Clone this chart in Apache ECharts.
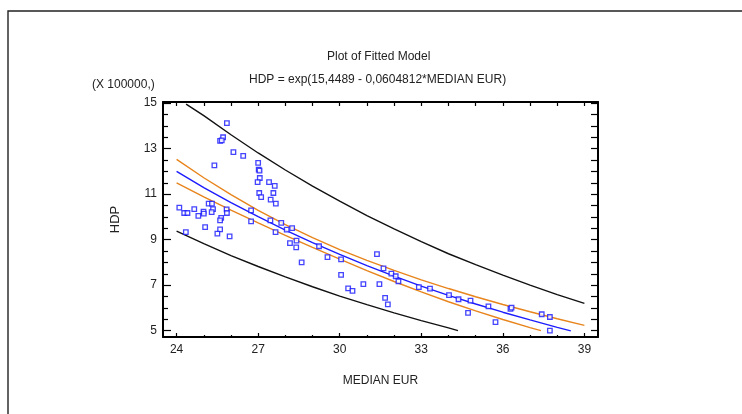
<!DOCTYPE html>
<html>
<head>
<meta charset="utf-8">
<script src="https://cdn.jsdelivr.net/npm/echarts@6/dist/echarts.min.js"></script>
<style>
  html, body { margin: 0; padding: 0; background: #fff; }
  #main { width: 742px; height: 414px; }
</style>
</head>
<body>
<div id="main"></div>
<script>
// observed points (MEDIAN EUR, HDP in 100000s)
var obsX = [25.85, 25.71, 25.60, 25.66, 26.09, 26.45, 25.39, 27.00, 27.02, 27.05,
            27.06, 26.98, 27.40, 27.61, 27.04, 27.11, 27.56, 27.46, 27.65, 24.10,
            24.28, 24.40, 24.65, 24.80, 24.99, 25.00, 25.18, 25.30, 25.34, 25.29,
            25.84, 25.85, 25.64, 25.60, 25.05, 24.34, 25.60, 25.50, 25.95, 26.74,
            26.74, 27.45, 27.85, 28.05, 28.25, 27.64, 28.17, 28.41, 28.40, 28.60,
            29.24, 29.55, 30.05, 30.05, 30.31, 30.47, 30.87, 31.37, 31.46, 31.61,
            31.67, 31.77, 31.90, 32.06, 32.16, 32.91, 33.32, 34.02, 34.37, 34.81,
            34.72, 35.47, 35.73, 36.28, 36.32, 37.43, 37.73, 37.73];
var obsY = [14.12, 13.50, 13.34, 13.36, 12.85, 12.68, 12.26, 12.37, 12.08, 12.03,
            11.71, 11.53, 11.53, 11.36, 11.05, 10.87, 11.05, 10.76, 10.58, 10.41,
            10.17, 10.17, 10.34, 10.04, 10.23, 10.14, 10.58, 10.58, 10.34, 10.21,
            10.33, 10.17, 9.96, 9.85, 9.55, 9.33, 9.45, 9.26, 9.14, 10.29,
            9.80, 9.85, 9.74, 9.44, 9.51, 9.33, 8.85, 8.96, 8.66, 8.00,
            8.71, 8.23, 8.13, 7.45, 6.86, 6.75, 7.04, 8.36, 7.04, 7.74,
            6.44, 6.15, 7.51, 7.39, 7.17, 6.91, 6.85, 6.56, 6.38, 6.32,
            5.78, 6.07, 5.37, 5.96, 6.01, 5.72, 5.60, 5.00];

// fitted line
var fitX = [24, 25, 26, 27, 28, 29, 30, 31, 32, 33, 34, 35, 36, 37, 38, 38.5];
var fitY = [12.00, 11.29, 10.63, 10.01, 9.42, 8.87, 8.35, 7.86, 7.40, 6.96, 6.55, 6.17, 5.81, 5.47, 5.14, 4.99];

// confidence limits for the mean (orange)
var confUpX = [24, 25, 26, 27, 28, 29, 30, 31, 32, 33, 34, 35, 36, 37, 38, 39];
var confUpY = [12.53, 11.72, 10.98, 10.29, 9.66, 9.09, 8.56, 8.09, 7.65, 7.23, 6.85, 6.49, 6.15, 5.83, 5.52, 5.23];
var confLoX = [24, 25, 26, 27, 28, 29, 30, 31, 32, 33, 34, 35, 36, 37, 37.4];
var confLoY = [11.49, 10.88, 10.30, 9.74, 9.19, 8.66, 8.14, 7.64, 7.16, 6.70, 6.27, 5.87, 5.49, 5.13, 5.00];

// prediction limits (black)
var predUpX = [24.35, 25, 26, 27, 28, 29, 30, 31, 32, 33, 34, 35, 36, 37, 38, 39];
var predUpY = [14.96, 14.45, 13.61, 12.81, 12.06, 11.35, 10.69, 10.06, 9.47, 8.91, 8.38, 7.90, 7.44, 7.00, 6.58, 6.20];
var predLoX = [24, 25, 26, 27, 28, 29, 30, 31, 32, 33, 34, 34.35];
var predLoY = [9.37, 8.82, 8.30, 7.82, 7.36, 6.93, 6.52, 6.14, 5.78, 5.44, 5.12, 5.00];

// ticks
var xMajor = [24, 27, 30, 33, 36, 39];
var xMinor = [25, 26, 28, 29, 31, 32, 34, 35, 37, 38];
var xAll = [24, 25, 26, 27, 28, 29, 30, 31, 32, 33, 34, 35, 36, 37, 38, 39];
var yMajor = [5, 7, 9, 11, 13, 15];
var yMinor = [5.5, 6, 6.5, 7.5, 8, 8.5, 9.5, 10, 10.5, 11.5, 12, 12.5, 13.5, 14, 14.5];
var yAll = [5, 5.5, 6, 6.5, 7, 7.5, 8, 8.5, 9, 9.5, 10, 10.5, 11, 11.5, 12, 12.5, 13, 13.5, 14, 14.5, 15];

var FONT = '"Liberation Sans", Arial, sans-serif';
var X_MIN = 23.5, X_MAX = 39.5, Y_MIN = 4.72, Y_MAX = 15.05;

function zip(a, b) {
  return a.map(function (v, i) { return [v, b[i]]; });
}

function xAxisDef(pos, ticks, len, showLine, labels) {
  return {
    type: 'value', position: pos, min: X_MIN, max: X_MAX,
    axisLine: { show: showLine, onZero: false, lineStyle: { color: '#000', width: 2 } },
    axisTick: { show: true, inside: true, length: len, customValues: ticks, lineStyle: { color: '#000', width: 1.2 } },
    axisLabel: labels ? { show: true, customValues: labels, margin: 7, color: '#222', fontSize: 12, fontFamily: FONT } : { show: false },
    splitLine: { show: false }
  };
}

function yAxisDef(pos, ticks, len, showLine, labels) {
  return {
    type: 'value', position: pos, min: Y_MIN, max: Y_MAX,
    axisLine: { show: showLine, onZero: false, lineStyle: { color: '#000', width: 2 } },
    axisTick: { show: true, inside: true, length: len, customValues: ticks, lineStyle: { color: '#000', width: 1.2 } },
    axisLabel: labels ? { show: true, customValues: labels, margin: 6, color: '#222', fontSize: 12, fontFamily: FONT } : { show: false },
    splitLine: { show: false }
  };
}

var chart = echarts.init(document.getElementById('main'));

var xBottom = xAxisDef('bottom', xMajor, 4, true, xMajor);
xBottom.name = 'MEDIAN EUR';
xBottom.nameLocation = 'middle';
xBottom.nameGap = 38;
xBottom.nameTextStyle = { color: '#222', fontSize: 12, fontFamily: FONT };

var yLeft = yAxisDef('left', yMajor, 8, true, yMajor);
yLeft.name = 'HDP';
yLeft.nameLocation = 'middle';
yLeft.nameGap = 41;
yLeft.nameTextStyle = { color: '#222', fontSize: 13, fontFamily: FONT };

function lineSeries(xs, ys, color) {
  return {
    type: 'line', data: zip(xs, ys), showSymbol: false, symbol: 'none',
    lineStyle: { color: color, width: 1.4 }, silent: true, z: 2
  };
}

chart.setOption({
  animation: false,
  backgroundColor: '#fff',
  grid: { left: 163, right: 144, top: 102, bottom: 77 },
  xAxis: [
    xBottom,
    xAxisDef('bottom', xMinor, 2, false, null),
    xAxisDef('top', xAll, 4, true, null)
  ],
  yAxis: [
    yLeft,
    yAxisDef('left', yMinor, 5, false, null),
    yAxisDef('right', yAll, 7, true, null)
  ],
  graphic: [
    { type: 'rect', shape: { x: 8, y: 11, width: 800, height: 450 },
      style: { fill: 'none', stroke: '#222', lineWidth: 1.4 }, silent: true },
    { type: 'text', left: 327, top: 51, style: { text: 'Plot of Fitted Model', fill: '#222', font: '12px ' + FONT } },
    { type: 'text', left: 249, top: 74, style: { text: 'HDP = exp(15,4489 - 0,0604812*MEDIAN EUR)', fill: '#222', font: '12px ' + FONT } },
    { type: 'text', left: 92, top: 79, style: { text: '(X 100000,)', fill: '#222', font: '12px ' + FONT } }
  ],
  series: [
    lineSeries(predUpX, predUpY, '#111'),
    lineSeries(predLoX, predLoY, '#111'),
    lineSeries(confUpX, confUpY, '#e8841c'),
    lineSeries(confLoX, confLoY, '#e8841c'),
    lineSeries(fitX, fitY, '#1c1cff'),
    {
      type: 'scatter', data: zip(obsX, obsY), symbol: 'rect', symbolSize: 4.5,
      itemStyle: { color: '#fff', borderColor: '#1515ff', borderWidth: 1.3 }, z: 3
    }
  ]
});
</script>
</body>
</html>
